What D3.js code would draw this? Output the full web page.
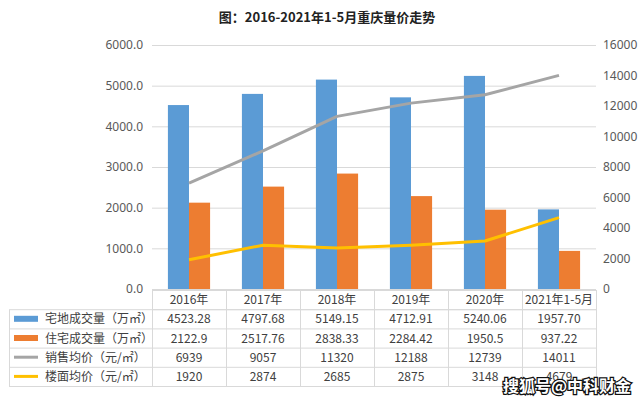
<!DOCTYPE html>
<html><head><meta charset="utf-8">
<script src="https://cdn.jsdelivr.net/npm/d3@7/dist/d3.min.js"></script>
<style>
html,body{margin:0;padding:0;background:#fff;}
svg{display:block;font-family:"Noto Sans CJK SC","Noto Sans",sans-serif;}
</style></head>
<body>
<script>
const title = "图：2016-2021年1-5月重庆量价走势";
const categories = ["2016年","2017年","2018年","2019年","2020年","2021年1-5月"];
const landVolume = [4523.28,4797.68,5149.15,4712.91,5240.06,1957.70];
const housingVolume = [2122.9,2517.76,2838.33,2284.42,1950.5,937.22];
const salesPrice = [6939,9057,11320,12188,12739,14011];
const floorPrice = [1920,2874,2685,2875,3148,4679];
const landLabels = ["4523.28","4797.68","5149.15","4712.91","5240.06","1957.70"];
const housingLabels = ["2122.9","2517.76","2838.33","2284.42","1950.5","937.22"];
const leftTicks = [0,1000,2000,3000,4000,5000,6000];
const rightTicks = [0,2000,4000,6000,8000,10000,12000,14000,16000];
const seriesNames = ["宅地成交量（万㎡）","住宅成交量（万㎡）","销售均价（元/㎡）","楼面均价（元/㎡）"];
const colors = ["#5B9BD5","#ED7D31","#A5A5A5","#FFC000"];
const watermark = "搜狐号@中科财金";

const W = 641, H = 403;
const svg = d3.select("body").append("svg").attr("width",W).attr("height",H);
const m = {left:152, right:596, top:45, bottom:289};

const x = d3.scaleBand().domain(categories).range([m.left,m.right]).paddingInner(0.43).paddingOuter(0.215);
const step = (m.right-m.left)/categories.length;
const colX = d3.scaleBand().domain(categories).range([m.left,m.right]);
const yL = d3.scaleLinear().domain([0,6000]).range([m.bottom,m.top]);
const yR = d3.scaleLinear().domain([0,16000]).range([m.bottom,m.top]);

// title
svg.append("text").attr("x",327).attr("y",22).attr("text-anchor","middle")
  .attr("font-size",13).attr("font-weight","bold").attr("fill","#222").text(title);

// gridlines
svg.append("g").selectAll("line").data(leftTicks).join("line")
  .attr("x1",m.left).attr("x2",m.right).attr("y1",d=>yL(d)+0.5).attr("y2",d=>yL(d)+0.5)
  .attr("stroke","#d9d9d9").attr("stroke-width",1);

// left axis
const axL = svg.append("g").attr("transform",`translate(${m.left-9},0)`)
  .call(d3.axisLeft(yL).tickValues(leftTicks).tickFormat(d3.format(".1f")).tickSize(0).tickPadding(0));
axL.select(".domain").remove();
axL.selectAll("text").attr("font-size",12).attr("fill","#595959").attr("font-family","'Noto Sans','Liberation Sans',sans-serif");

// right axis
const axR = svg.append("g").attr("transform",`translate(${m.right+7},0)`)
  .call(d3.axisRight(yR).tickValues(rightTicks).tickFormat(d3.format("d")).tickSize(0).tickPadding(0));
axR.select(".domain").remove();
axR.selectAll("text").attr("font-size",12).attr("fill","#595959").attr("font-family","'Noto Sans','Liberation Sans',sans-serif");

// bars
const sub = d3.scaleBand().domain([0,1]).range([0,x.bandwidth()]);
const barData = categories.map((c,i)=>[{c,k:0,v:landVolume[i]},{c,k:1,v:housingVolume[i]}]).flat();
svg.append("g").selectAll("rect").data(barData).join("rect")
  .attr("x",d=>x(d.c)+sub(d.k)).attr("width",sub.bandwidth())
  .attr("y",d=>yL(d.v)).attr("height",d=>yL(0)-yL(d.v))
  .attr("fill",d=>colors[d.k]);

// lines
const cx = c => x(c)+x.bandwidth()/2;
const line = d3.line().x(d=>cx(d.c)).y(d=>yR(d.v));
[[salesPrice,2],[floorPrice,3]].forEach(([arr,ci])=>{
  svg.append("path").datum(categories.map((c,i)=>({c,v:arr[i]})))
    .attr("d",line).attr("fill","none").attr("stroke",colors[ci])
    .attr("stroke-width",3).attr("stroke-linejoin","round");
});

// data table
const tTop = 290, rowH = 19.2, tLeft = 9;
const g = svg.append("g");
const bc = "#d9d9d9";
// header row
g.append("rect").attr("x",m.left+0.5).attr("y",tTop+0.5).attr("width",m.right-m.left).attr("height",rowH)
  .attr("fill","none").attr("stroke",bc);
// body
g.append("rect").attr("x",tLeft+0.5).attr("y",tTop+rowH+0.5).attr("width",m.right-tLeft).attr("height",rowH*4)
  .attr("fill","none").attr("stroke",bc);
for(let r=1;r<4;r++){
  g.append("line").attr("x1",tLeft).attr("x2",m.right).attr("y1",tTop+rowH*(r+1)+0.5).attr("y2",tTop+rowH*(r+1)+0.5).attr("stroke",bc);
}
categories.forEach(c=>{
  const xx = Math.round(colX(c))+0.5;
  g.append("line").attr("x1",xx).attr("x2",xx).attr("y1",tTop).attr("y2",tTop+rowH*5).attr("stroke",bc);
});
const tfont = "'Noto Sans CJK SC','Noto Sans',sans-serif";
categories.forEach(c=>{
  g.append("text").attr("x",colX(c)+step/2).attr("y",tTop+rowH/2+4.5).attr("text-anchor","middle")
   .attr("font-size",12).attr("fill","#404040").attr("font-family",tfont).text(c);
});
const rows = [landLabels,housingLabels,salesPrice.map(String),floorPrice.map(String)];
rows.forEach((vals,r)=>{
  const yy = tTop+rowH*(r+1)+rowH/2;
  categories.forEach((c,i)=>{
    g.append("text").attr("x",colX(c)+step/2).attr("y",yy+4.5).attr("text-anchor","middle")
     .attr("font-size",12).attr("fill","#404040").attr("font-family",tfont).text(vals[i]);
  });
  if(r<2){
    g.append("rect").attr("x",14).attr("y",yy-3).attr("width",24).attr("height",6).attr("fill",colors[r]);
  } else {
    g.append("line").attr("x1",14).attr("x2",38).attr("y1",yy).attr("y2",yy).attr("stroke",colors[r]).attr("stroke-width",3);
  }
  g.append("text").attr("x",45).attr("y",yy+4.5).attr("font-size",12).attr("fill","#404040")
   .attr("font-family",tfont).text(seriesNames[r]);
});

// watermark
svg.append("text").attr("x",503).attr("y",392).attr("font-size",16).attr("font-weight","bold")
  .attr("fill","#fff").attr("stroke","#111").attr("stroke-width",2.5).attr("paint-order","stroke")
  .attr("font-family",tfont).text(watermark);
</script>
</body></html>
